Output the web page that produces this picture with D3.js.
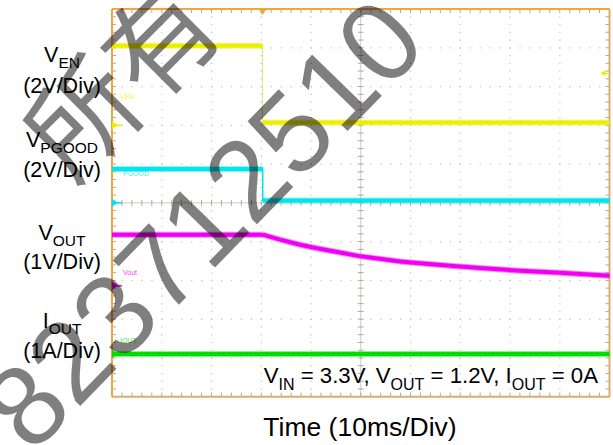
<!DOCTYPE html>
<html><head><meta charset="utf-8">
<script src="https://cdn.jsdelivr.net/npm/d3@7"></script>
<style>
body{margin:0;background:#fff}
svg{display:block}
text{font-family:"Liberation Sans",Arial,Helvetica,sans-serif}
</style>
</head><body>
<svg id="chart" width="613" height="445"></svg>
<script>
// ---------------- data ----------------
const timeDomainMs = [0, 100];            // 10 ms/div, 10 divisions
const divDomain = [-5, 5];                // vertical divisions
const enTime  = [0, 30.25, 30.25, 100];
const enVolts = [4.1, 4.1, 0.14, 0.14];
const pgTime  = [0, 30.3, 30.3, 100];
const pgVolts = [1.74, 1.74, 0.12, 0.12];
const voutTime  = [0, 30.3, 33.8, 37.8, 41.2, 45.8, 50, 57.9, 61.3, 67.9, 74, 82, 90, 100];
const voutVolts = [1.32, 1.32, 1.19, 1.06, 0.97, 0.86, 0.76, 0.63, 0.59, 0.52, 0.46, 0.39, 0.34, 0.26];
const ioutTime = [0, 100];
const ioutAmps = [0, 0];
const chTags   = ["VEN", "PGOOD", "Vout", "IOUT"];
const chPerDiv = [2, 2, 1, 1];
const chOffset = [2, 0, -2.14, -3.9];     // ground marker position (div)
const labelMain = ["V", "V", "V", "I"];
const labelSub  = ["EN", "PGOOD", "OUT", "OUT"];
const labelDiv  = ["(2V/Div)", "(2V/Div)", "(1V/Div)", "(1A/Div)"];
const triggerMs = 30.25;
const triggerLevelV = 2.68;
const xTitle = "Time (10ms/Div)";
const noteParts = [["V",""],["IN","s"],[" = 3.3V, V",""],["OUT","s"],[" = 1.2V, I",""],["OUT","s"],[" = 0A",""]];
const watermarkA = "所有";
const watermarkB = "823712510";

// ---------------- layout ----------------
const svg = d3.select("#chart");
const L = 112, R = 609.5, T = 9, B = 396.7;
const x = d3.scaleLinear().domain(timeDomainMs).range([L, R]);
const y = d3.scaleLinear().domain(divDomain).range([B, T]);
const colors = ["#eeee00", "#00e6ee", "#f000f0", "#00dd00"];

// graticule
const g = svg.append("g");
const xDivs = d3.range(0, 101, 10), yDivs = d3.range(-5, 6, 1);
const xMinor = d3.range(0, 100.01, 2), yMinor = d3.range(-5, 5.01, 0.2);
xDivs.filter(d => d > 0 && d < 100 && d !== 50).forEach(d => {
  yMinor.forEach(m => g.append("rect").attr("x", x(d) - 0.5).attr("y", y(m) - 0.5).attr("width", 1.2).attr("height", 1.2).attr("fill", "#c4bfb8"));
});
yDivs.filter(d => d > -5 && d < 5 && d !== 0).forEach(d => {
  xMinor.forEach(m => g.append("rect").attr("x", x(m) - 0.5).attr("y", y(d) - 0.5).attr("width", 1.2).attr("height", 1.2).attr("fill", "#c4bfb8"));
});
g.append("line").attr("x1", x(50)).attr("x2", x(50)).attr("y1", T).attr("y2", B).attr("stroke", "#d2c8ba").attr("stroke-width", 1);
g.append("line").attr("x1", L).attr("x2", R).attr("y1", y(0)).attr("y2", y(0)).attr("stroke", "#d2c8ba").attr("stroke-width", 1);
xMinor.forEach(m => {
  g.append("line").attr("x1", x(m)).attr("x2", x(m)).attr("y1", y(0) - 3).attr("y2", y(0) + 3).attr("stroke", "#b5a896");
  g.append("line").attr("x1", x(m)).attr("x2", x(m)).attr("y1", T).attr("y2", T + 4).attr("stroke", "#b5a896");
  g.append("line").attr("x1", x(m)).attr("x2", x(m)).attr("y1", B - 4).attr("y2", B).attr("stroke", "#b5a896");
});
yMinor.forEach(m => {
  g.append("line").attr("y1", y(m)).attr("y2", y(m)).attr("x1", x(50) - 3).attr("x2", x(50) + 3).attr("stroke", "#b5a896");
  g.append("line").attr("y1", y(m)).attr("y2", y(m)).attr("x1", L).attr("x2", L + 4).attr("stroke", "#b5a896");
  g.append("line").attr("y1", y(m)).attr("y2", y(m)).attr("x1", R - 4).attr("x2", R).attr("stroke", "#b5a896");
});
g.append("line").attr("x1", L).attr("x2", R).attr("y1", B).attr("y2", B).attr("stroke", "#dcae70").attr("stroke-width", 2);
g.append("line").attr("x1", R).attr("x2", R).attr("y1", T).attr("y2", B).attr("stroke", "#dcae70").attr("stroke-width", 2);
g.append("line").attr("x1", L).attr("x2", R).attr("y1", T).attr("y2", T).attr("stroke", "#f3a43a").attr("stroke-width", 2);
g.append("line").attr("x1", L).attr("x2", L).attr("y1", T).attr("y2", B).attr("stroke", "#f0a540").attr("stroke-width", 2);

// traces
const traces = [[enTime, enVolts], [pgTime, pgVolts], [voutTime, voutVolts], [ioutTime, ioutAmps]];
const tg = svg.append("g");
traces.forEach(([ts, vs], c) => {
  const py = v => y(chOffset[c] + v / chPerDiv[c]);
  const line = d3.line().x(d => x(d[0])).y(d => py(d[1]));
  const pts = ts.map((t, i) => [t, vs[i]]);
  tg.append("path").attr("d", line(pts)).attr("fill", "none")
    .attr("stroke", c === 0 ? "#e4e480" : colors[c]).attr("stroke-width", c === 0 ? 1 : 1.5);
  for (let i = 0; i < pts.length - 1; i++) {
    if (pts[i][0] === pts[i + 1][0]) continue;
    const seg = [pts[i], pts[i + 1]];
    tg.append("path").attr("d", line(seg)).attr("fill", "none").attr("stroke", colors[c])
      .attr("stroke-width", 6).attr("stroke-opacity", 0.45).attr("stroke-linecap", "butt");
    tg.append("path").attr("d", line(seg)).attr("fill", "none").attr("stroke", colors[c])
      .attr("stroke-width", 4).attr("stroke-linecap", "butt");
  }
  const gy = y(chOffset[c]);
  tg.append("path").attr("d", `M${L},${gy - 4}L${L + 6},${gy}L${L},${gy + 4}Z`).attr("fill", colors[c]);
  tg.append("line").attr("x1", L + 5).attr("x2", L + 10).attr("y1", gy).attr("y2", gy).attr("stroke", colors[c]).attr("stroke-width", 1.5);
});
const tagPos = [[120, 98.5], [123, 176], [123, 275], [120, 343]];
chTags.forEach((t, c) => {
  svg.append("text").attr("x", tagPos[c][0]).attr("y", tagPos[c][1]).attr("font-size", 7)
    .attr("fill", colors[c]).attr("fill-opacity", 0.8).text(t);
});
svg.append("path").attr("d", `M${x(triggerMs) - 4},${T}L${x(triggerMs) + 4},${T}L${x(triggerMs)},${T + 6}Z`).attr("fill", "#f3a43a");
const ty = y(chOffset[0] + triggerLevelV / chPerDiv[0]);
svg.append("path").attr("d", `M${R - 9},${ty}L${R - 4},${ty - 3}L${R - 4},${ty + 3}Z`).attr("fill", colors[0]);
svg.append("line").attr("x1", R - 5).attr("x2", R - 1).attr("y1", ty).attr("y2", ty).attr("stroke", colors[0]).attr("stroke-width", 1.2);

// left labels
const lblBase = [[62, 93], [147, 177], [240, 269], [328, 358]];
labelMain.forEach((m, i) => {
  const t = svg.append("text").attr("x", 62).attr("y", lblBase[i][0]).attr("text-anchor", "middle").attr("font-size", 21.5).attr("fill", "#000");
  t.append("tspan").text(m);
  t.append("tspan").attr("font-size", 15.5).attr("dy", 6).text(labelSub[i]);
  svg.append("text").attr("x", 62).attr("y", lblBase[i][1]).attr("text-anchor", "middle").attr("font-size", 21.5).attr("fill", "#000").text(labelDiv[i]);
});
// note
const note = svg.append("text").attr("x", 598).attr("y", 383).attr("text-anchor", "end").attr("font-size", 22.2).attr("fill", "#000");
let subOn = false;
noteParts.forEach(([s, k]) => {
  const sp = note.append("tspan").text(s);
  if (k === "s") { sp.attr("font-size", 16).attr("dy", 7); subOn = true; }
  else if (subOn) { sp.attr("dy", -7); subOn = false; }
});
svg.append("text").attr("x", 360).attr("y", 436).attr("text-anchor", "middle").attr("font-size", 26.5).attr("fill", "#000").text(xTitle);

// watermark
const wm = svg.append("g").attr("fill", "#000").attr("fill-opacity", 0.5);
wm.append("text").attr("transform", "translate(228,30) rotate(-45)").attr("text-anchor", "end")
  .style("font-family", "'Noto Sans CJK SC'").attr("font-size", 110).text(watermarkA);
wm.append("text").attr("transform", "translate(231,251) rotate(-45.8)").attr("text-anchor", "middle")
  .attr("font-size", 114).text(watermarkB);
</script>
</body></html>
